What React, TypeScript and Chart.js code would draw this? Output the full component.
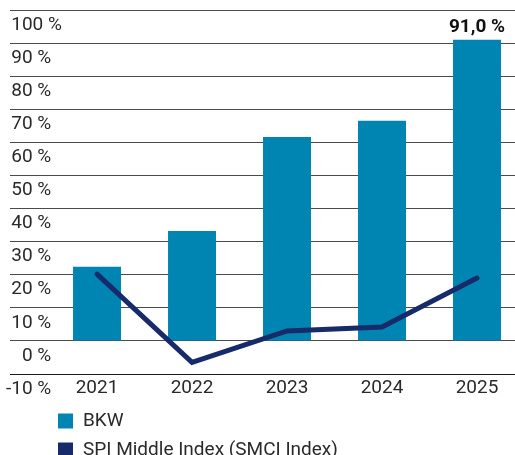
import React, { useEffect, useRef } from 'react';
import { Chart, registerables } from 'chart.js';

Chart.register(...registerables);

// ---- data ----
const years: string[] = ['2021', '2022', '2023', '2024', '2025'];
const bkwValues: number[] = [22.4, 33.2, 61.6, 66.5, 91.0];
const spiValues: number[] = [20.2, -6.5, 3.0, 4.2, 19.0];
const yTickValues: number[] = [-10, 0, 10, 20, 30, 40, 50, 60, 70, 80, 90, 100];
const seriesNames: string[] = ['BKW', 'SPI Middle Index (SMCI Index)'];
const labelledBarIndex = 4;

// ---- styles ----
const BAR_COLOR = '#0085b3';
const LINE_COLOR = '#172a69';
const TEXT_COLOR = '#2a2a2a';
const GRID_COLOR = '#4a4a4a';
const FONT_FAMILY = 'Roboto, "DejaVu Sans", sans-serif';

const fmtTick = (v: number) => {
  const s = `${v} %`;
  return v >= 100 ? s : s + '\u2007';
};
const fmtValue = (v: number) => `${v.toFixed(1).replace('.', ',')} %`;

const valueLabelPlugin = {
  id: 'valueLabel',
  afterDatasetsDraw(chart: any) {
    const meta = chart.getDatasetMeta(1);
    const el = meta.data[labelledBarIndex];
    if (!el) return;
    const ctx = chart.ctx;
    ctx.save();
    ctx.font = `bold 19px ${FONT_FAMILY}`;
    ctx.fillStyle = '#111';
    ctx.textAlign = 'center';
    ctx.textBaseline = 'middle';
    ctx.fillText(fmtValue(bkwValues[labelledBarIndex]), el.x, el.y - 13);
    ctx.restore();
  },
};

const legendPlugin = {
  id: 'stackedLegend',
  afterDraw(chart: any) {
    const ctx = chart.ctx;
    const colors = [BAR_COLOR, LINE_COLOR];
    ctx.save();
    ctx.font = `19px ${FONT_FAMILY}`;
    ctx.textBaseline = 'middle';
    ctx.textAlign = 'left';
    seriesNames.forEach((name, i) => {
      const cy = 421 + i * 29;
      ctx.fillStyle = colors[i];
      ctx.fillRect(58, cy - 7.5, 15, 15);
      ctx.fillStyle = TEXT_COLOR;
      ctx.fillText(name, 83, cy);
    });
    ctx.restore();
  },
};

export default function App() {
  const canvasRef = useRef<HTMLCanvasElement | null>(null);

  useEffect(() => {
    if (!canvasRef.current) return;
    const chart = new Chart(canvasRef.current, {
      type: 'bar',
      data: {
        datasets: [
          {
            type: 'line',
            label: seriesNames[1],
            data: spiValues.map((v, i) => ({ x: i, y: v })),
            borderColor: LINE_COLOR,
            backgroundColor: LINE_COLOR,
            borderWidth: 5,
            borderCapStyle: 'round',
            borderJoinStyle: 'miter',
            pointRadius: 0,
            tension: 0,
            order: 0,
          } as any,
          {
            type: 'bar',
            label: seriesNames[0],
            data: bkwValues.map((v, i) => ({ x: i, y: v })),
            backgroundColor: BAR_COLOR,
            borderWidth: 0,
            barPercentage: 0.505,
            categoryPercentage: 1,
            order: 1,
          } as any,
        ],
      },
      options: {
        animation: false,
        responsive: true,
        maintainAspectRatio: false,
        layout: { padding: { left: 10, top: 10, right: 0, bottom: 51 } },
        plugins: {
          legend: { display: false },
          tooltip: { enabled: false },
        },
        scales: {
          x: {
            type: 'linear',
            offset: false,
            min: -0.916,
            max: 4.4,
            grid: { display: false, drawTicks: false, offset: false },
            border: { display: false },
            afterBuildTicks: (scale: any) => {
              scale.ticks = years.map((_, i) => ({ value: i }));
            },
            afterFit: (scale: any) => {
              scale.height = 30;
            },
            ticks: {
              padding: 3,
              color: TEXT_COLOR,
              font: { family: FONT_FAMILY, size: 19 },
              callback: (v: any) => years[v] ?? '',
              maxRotation: 0,
              autoSkip: false,
            },
          },
          y: {
            type: 'linear',
            min: -10,
            max: 100,
            afterBuildTicks: (scale: any) => {
              scale.ticks = yTickValues.map((v) => ({ value: v }));
            },
            afterFit: (scale: any) => {
              scale.width = 0;
            },
            grid: {
              drawTicks: false,
              color: (c: any) => (c.tick && c.tick.value === -10 ? '#1a1a1a' : GRID_COLOR),
              lineWidth: 1,
            },
            border: { display: false },
            ticks: {
              mirror: true,
              crossAlign: 'far',
              padding: -4,
              labelOffset: 15,
              color: TEXT_COLOR,
              font: { family: FONT_FAMILY, size: 19 },
              autoSkip: false,
              callback: (v: any) => fmtTick(Number(v)),
            },
          },
        },
      } as any,
      plugins: [valueLabelPlugin, legendPlugin],
    });
    return () => chart.destroy();
  }, []);

  return (
    <div style={{ position: 'absolute', left: 0, top: 0, width: 515, height: 455, background: '#fff' }}>
      <canvas ref={canvasRef} />
    </div>
  );
}
